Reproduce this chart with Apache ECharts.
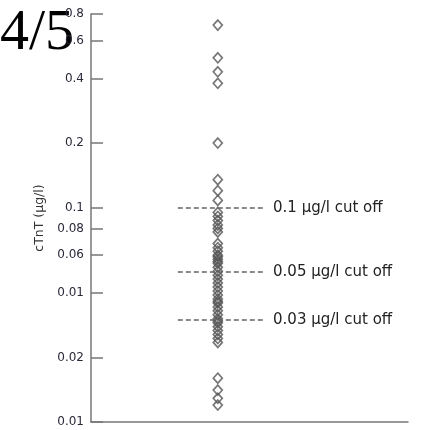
<!DOCTYPE html>
<html>
<head>
<meta charset="utf-8">
<script src="https://cdn.jsdelivr.net/npm/echarts@6/dist/echarts.min.js"></script>
<style>
  html, body { margin: 0; padding: 0; background: #fff; }
  #chart { width: 423px; height: 430px; }
</style>
</head>
<body>
<div id="chart"></div>
<script>
// y axis ticks (log scale) and the labels printed next to them
var tickValues = [0.8, 0.6, 0.4, 0.2, 0.1, 0.08, 0.06, 0.04, 0.02, 0.01];
var tickLabels = ['0.8', '0.6', '0.4', '0.2', '0.1', '0.08', '0.06', '0.01', '0.02', '0.01'];

// cTnT values of the patient group (µg/l)
var cTnTValues = [
    0.71, 0.50, 0.43, 0.38, 0.20, 0.135, 0.12, 0.108,
    0.095, 0.091, 0.087, 0.083, 0.080, 0.077,
    0.068, 0.065, 0.0626, 0.060, 0.059, 0.0574, 0.056, 0.055, 0.0527, 0.0505, 0.0484, 0.0464,
    0.0445, 0.0426, 0.0408, 0.0391, 0.0375, 0.0365, 0.0359, 0.0344, 0.033, 0.0316,
    0.0303, 0.0296, 0.029, 0.0278, 0.0267, 0.0256, 0.0245, 0.0235,
    0.016, 0.0141, 0.0129, 0.012
];
var groupX = 0.4;

// cut-off reference lines
var cutOffs = [0.1, 0.05, 0.03];
var cutOffLabels = ['0.1 µg/l cut off', '0.05 µg/l cut off', '0.03 µg/l cut off'];
var cutOffFrom = 0.274;
var cutOffTo = 0.549;

function labelFor(v) {
    for (var i = 0; i < tickValues.length; i++) {
        if (Math.abs(v - tickValues[i]) < tickValues[i] * 0.01) {
            return tickLabels[i];
        }
    }
    return '';
}

var myChart = echarts.init(document.getElementById('chart'));

var points = cTnTValues.map(function (v) { return [groupX, v]; });

var lines = cutOffs.map(function (c, i) {
    return [
        { coord: [cutOffFrom, c], label: { formatter: cutOffLabels[i] } },
        { coord: [cutOffTo, c] }
    ];
});

var option = {
    animation: false,
    grid: { left: 91, right: 15, top: 14, bottom: 8 },
    xAxis: {
        type: 'value',
        min: 0,
        max: 1,
        splitLine: { show: false },
        axisLabel: { show: false },
        axisTick: { show: false },
        axisLine: { lineStyle: { color: '#777', width: 1.5 } }
    },
    yAxis: {
        type: 'log',
        logBase: 10,
        min: 0.01,
        max: 0.8,
        name: 'cTnT (µg/l)',
        nameLocation: 'middle',
        nameRotate: 90,
        nameGap: 45,
        nameTextStyle: { color: '#333', fontSize: 12.5, fontFamily: 'DejaVu Sans' },
        splitLine: { show: false },
        axisLine: { lineStyle: { color: '#777', width: 1.5 } },
        axisTick: {
            inside: true,
            length: 12,
            customValues: tickValues,
            lineStyle: { color: '#777', width: 1.5 }
        },
        axisLabel: {
            customValues: tickValues,
            color: '#2a2a3a',
            fontSize: 12,
            fontFamily: 'DejaVu Sans',
            margin: 7,
            formatter: function (v) { return labelFor(v); }
        }
    },
    series: [{
        type: 'scatter',
        data: points,
        symbol: 'diamond',
        symbolSize: [9, 10],
        itemStyle: {
            color: 'rgba(255,255,255,0)',
            borderColor: '#555',
            borderWidth: 1.7
        },
        markLine: {
            silent: true,
            symbol: ['none', 'none'],
            lineStyle: { color: '#666', type: [5, 3], width: 1.5 },
            label: {
                position: 'end',
                color: '#222',
                fontSize: 15,
                fontFamily: 'DejaVu Sans',
                letterSpacing: 0.5,
                distance: 8
            },
            data: lines
        }
    }],
    graphic: [{
        type: 'text',
        left: 0,
        top: 5,
        style: {
            text: '4/5',
            font: '58px "Liberation Serif"',
            fill: '#000',
            shadowColor: 'rgba(0,0,0,0.5)',
            shadowBlur: 5,
            shadowOffsetX: 3,
            shadowOffsetY: 4
        }
    }]
};

myChart.setOption(option);
</script>
</body>
</html>
